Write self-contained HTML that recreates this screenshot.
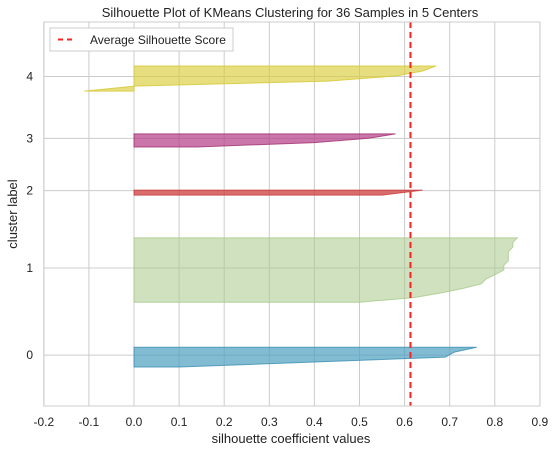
<!DOCTYPE html>
<html><head><meta charset="utf-8"><style>
body{margin:0;background:#fff;font-family:"Liberation Sans",sans-serif}
svg text{font-family:"Liberation Sans",sans-serif;fill:#222}
</style></head><body>
<svg width="556" height="453">
<g id="grid"></g>
<g id="marks"></g>
<g id="axes"></g>
<text x="290" y="17" text-anchor="middle" font-size="13">Silhouette Plot of KMeans Clustering for 36 Samples in 5 Centers</text>
<text x="291" y="443" text-anchor="middle" font-size="13">silhouette coefficient values</text>
<text x="17" y="214" text-anchor="middle" font-size="13" transform="rotate(-90 17 214)">cluster label</text>
<g>
<rect x="50" y="28" width="183" height="23" fill="#fff" stroke="#ccc"/>
<line x1="58" y1="39.5" x2="75" y2="39.5" stroke="#f22" stroke-width="2" stroke-dasharray="5,4"/>
<text x="90" y="44" font-size="12">Average Silhouette Score</text>
</g>
</svg>
<script>
const xTicks=[-0.2,-0.1,0.0,0.1,0.2,0.3,0.4,0.5,0.6,0.7,0.8,0.9];
const xTickLabels=["-0.2","-0.1","0.0","0.1","0.2","0.3","0.4","0.5","0.6","0.7","0.8","0.9"];
const clusterLabels=["0","1","2","3","4"];
const clusterStart=[10,24.4,48.2,58.9,71.3];
const clusterEnd=[14.4,38.7,49.3,61.8,76.9];
const c0=[0.10,0.40,0.69,0.71,0.76];
const c1=[0.50,0.62,0.68,0.73,0.77,0.78,0.80,0.82,0.82,0.83,0.83,0.83,0.84,0.84,0.85];
const c2=[0.55,0.64];
const c3=[0.14,0.40,0.52,0.58];
const c4=[-0.11,0.0,0.43,0.58,0.64,0.67];
const avgScore=0.613;
const ns="http://www.w3.org/2000/svg";
const L=44,R=540,T=22,B=406;
const X=v=>134+v*451;
const Y=u=>412-4.5*u;
const fills=["#4c9fc0","#a8c98a","#d04848","#b33c86","#d8cc3a"];
const strokes=["#3a8db0","#a8c98a","#c83c3c","#a0306f","#d4c830"];
const alphas=[0.7,0.55,0.8,0.7,0.65];
function mk(t,a,p){const e=document.createElementNS(ns,t);for(const k in a)e.setAttribute(k,a[k]);p.appendChild(e);return e;}
const grid=document.getElementById('grid'),marks=document.getElementById('marks'),axes=document.getElementById('axes');
xTicks.forEach((v,i)=>{
 const l=mk('line',{x1:X(v),x2:X(v),y1:T,y2:B,stroke:'#cccccc','stroke-width':1},grid);
 
 const t=mk('text',{x:X(v),y:426,'text-anchor':'middle','font-size':12},axes);
 t.textContent=xTickLabels[i];
});
const series=[c0,c1,c2,c3,c4];
series.forEach((vals,ci)=>{
 const n=vals.length,s=clusterStart[ci],e=clusterEnd[ci],step=n>1?(e-s)/(n-1):0;
 const mid=(s+e)/2;
 const g=mk('line',{x1:L,x2:R,y1:Y(mid)-2,y2:Y(mid)-2,stroke:'#cccccc','stroke-width':1},grid);
 
 const t=mk('text',{x:33,y:Y(mid)+2,'text-anchor':'end','font-size':12},axes);
 t.textContent=clusterLabels[ci];
 let pts=[[X(0),Y(s)]];
 vals.forEach((v,i)=>pts.push([X(v),Y(s+i*step)]));
 pts.push([X(0),Y(e)]);
 const p=mk('polygon',{points:pts.map(q=>q.join(',')).join(' '),fill:fills[ci],'fill-opacity':alphas[ci],stroke:strokes[ci],'stroke-opacity':0.8,'stroke-width':1},marks);
 
});
const a=mk('line',{x1:X(avgScore),x2:X(avgScore),y1:T,y2:B,stroke:'#ff2020','stroke-width':2,'stroke-dasharray':'6,4'},marks);

const fr=mk('rect',{x:L,y:T,width:R-L,height:B-T,fill:'none',stroke:'#cccccc','stroke-width':1},axes);

</script>
</body></html>
